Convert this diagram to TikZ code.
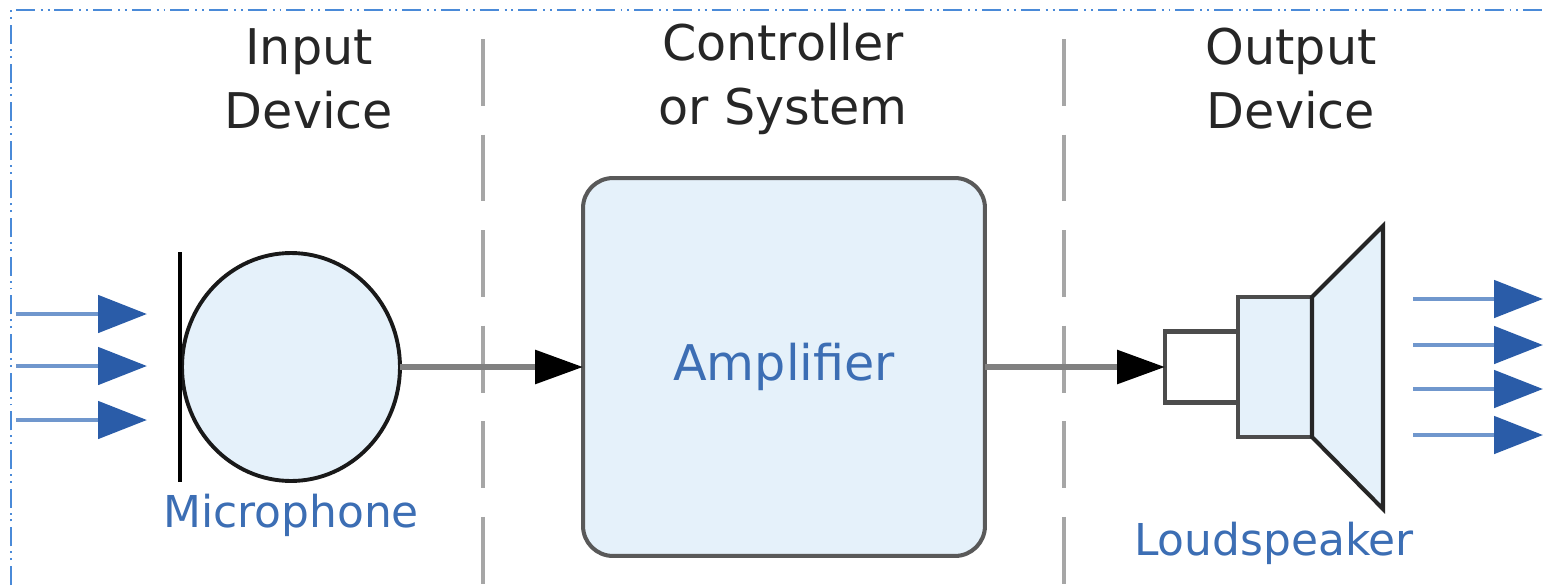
\documentclass[tikz,border=0pt]{standalone}
\usepackage{fontspec}
\setmainfont{DejaVu Sans}
\usepackage{tikz}
\usetikzlibrary{arrows.meta, positioning, shapes.geometric}
\definecolor{paleblue}{HTML}{E5F1FA}
\definecolor{textblue}{HTML}{3C6EB4}
\definecolor{headblue}{HTML}{2A5CA8}
\definecolor{shaftblue}{HTML}{7097CD}
\definecolor{frameblue}{HTML}{4A8AD8}
\tikzset{
  heading/.style={align=center, inner sep=0pt, text=black!85,
    font=\fontsize{28}{36.4}\selectfont},
  devname/.style={inner sep=0pt, text=textblue, font=\fontsize{25}{30}\selectfont},
  conn/.style={draw=black!50, line width=3.4pt,
    -{Triangle[length=0.96cm, width=0.66cm, color=black]}},
  wave/.style={draw=shaftblue, line width=2.8pt,
    -{Triangle[length=0.98cm, width=0.74cm, color=headblue]}},
  divider/.style={draw=black!35, line width=2.2pt, dash pattern=on 38pt off 16.4pt},
  frame/.style={draw=frameblue, line width=1.3pt,
    dash pattern=on 10.8pt off 3.4pt on 1.1pt off 2.8pt on 1.1pt off 2.8pt},
  part/.style={draw=black!70, line width=2.3pt, inner sep=0pt, outer sep=0pt},
}

\begin{document}
\begin{tikzpicture}[x=0.02cm, y=-0.02cm]
      \path[fill=white, use as bounding box] (0,0) rectangle (1545,585);
      \draw[frame] (11,585) -- (11,10) -- (1545,10);
      \draw[divider] (483,39) -- (483,585);
      \draw[divider] (1064,39) -- (1064,585);

      \node[heading] (intitle)  at (309,79)  {Input\\Device};
      \node[heading] (ctltitle) at (783,79)  {Controller\\or System};
      \node[heading] (outtitle) at (1291,79) {Output\\Device};

      % microphone
      \node[part, ellipse, draw=black!90, fill=paleblue, line width=2.2pt,
            minimum width=4.36cm, minimum height=4.56cm] (mic) at (291,367) {};
      \draw[line width=1.8pt] (180,252) -- (180,482);
      \node[devname, below=0.26cm of mic] (micname) {Microphone};

      % amplifier
      \node[part, rounded corners=0.6cm, draw=black!65, fill=paleblue,
            minimum width=8.04cm, minimum height=7.56cm, text=textblue,
            font=\fontsize{28}{34}\selectfont] (amp) at (784,367) {Amplifier};

      % loudspeaker
      \node[part, fill=white, minimum width=1.46cm, minimum height=1.42cm] (coil) at (1201.5,367) {};
      \node[part, fill=paleblue, minimum width=1.48cm, minimum height=2.8cm] (magnet) at (1275,367) {};
      \draw[part, draw=black!85, fill=paleblue] (magnet.north east) -- (1383,226)
            -- (1383,509) -- (magnet.south east) -- cycle;
      \node[devname, anchor=base] (spkname) at (1274,555) {Loudspeaker};

      \coordinate (src1) at (16,314);   \coordinate (tip1) at (147,314);
      \coordinate (src2) at (16,366);   \coordinate (tip2) at (147,366);
      \coordinate (src3) at (16,420);   \coordinate (tip3) at (147,420);
      \coordinate (out1) at (1413,299); \coordinate (end1) at (1543,299);
      \coordinate (out2) at (1413,345); \coordinate (end2) at (1543,345);
      \coordinate (out3) at (1413,389); \coordinate (end3) at (1543,389);
      \coordinate (out4) at (1413,435); \coordinate (end4) at (1543,435);

      \draw (src1) edge[wave] (tip1)
            (src2) edge[wave] (tip2)
            (src3) edge[wave] (tip3)
            (out1) edge[wave] (end1)
            (out2) edge[wave] (end2)
            (out3) edge[wave] (end3)
            (out4) edge[wave] (end4);

      \draw (mic) edge[conn] (amp)
            (amp) edge[conn] (coil);
    \end{tikzpicture}
\end{document}
